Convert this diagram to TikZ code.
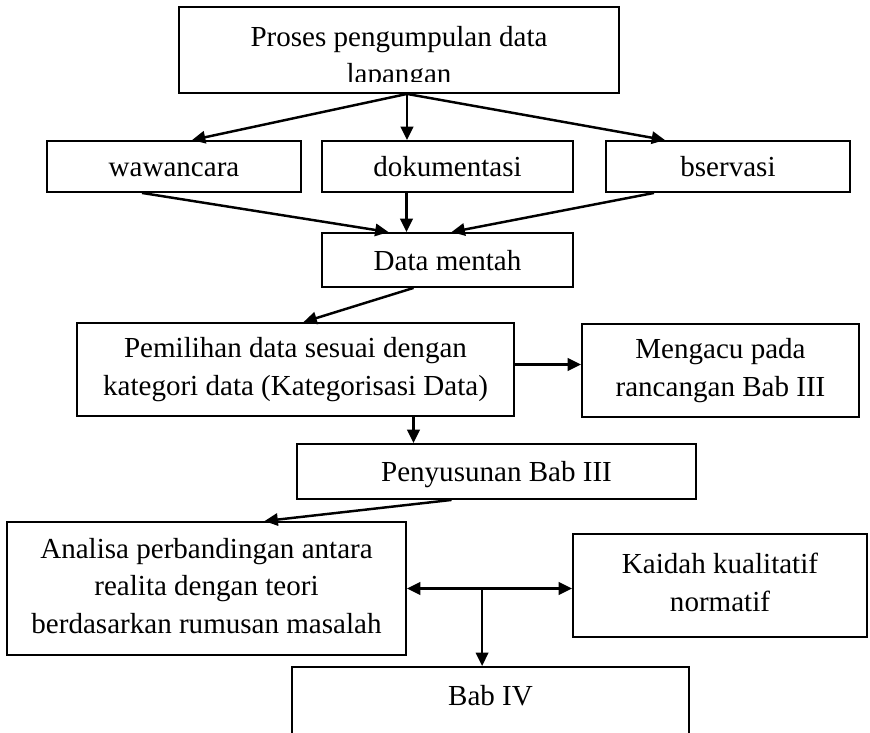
\documentclass[tikz,border=0pt]{standalone}
\usepackage{fontspec}
\setmainfont{Liberation Serif}
\usetikzlibrary{arrows.meta,calc}
\newcommand\boxstrut{\rule[-0.18cm]{0pt}{0.96cm}}
\begin{document}
\begin{tikzpicture}[x=0.03cm,y=-0.03cm,
  box/.style={draw, line width=1.6pt, inner sep=0pt, align=center, font=\fontsize{24.8pt}{32pt}\selectfont,
    execute at begin node=\boxstrut, execute at end node=\boxstrut},
  link/.style={->, line width=2.1pt},
  >={Triangle[length=0.4cm,width=0.37cm]}]
\useasboundingbox (0,0) rectangle (870,733);
\node[box, minimum width=13.2cm, minimum height=2.58cm] (src) at (399,50) {};
\begin{scope}
\clip (179,7) rectangle (619,82);
\node[box, draw=none] (srctext) at (399,58) {Proses pengumpulan data\\lapangan};
\end{scope}
\node[box, minimum width=7.62cm, minimum height=1.53cm] (waw) at (174,166.5) {wawancara};
\node[box, minimum width=7.53cm, minimum height=1.53cm] (dok) at (447.5,166.5) {dokumentasi};
\node[box, minimum width=7.32cm, minimum height=1.53cm] (obs) at (728,166.5) {bservasi};
\node[box, minimum width=7.53cm, minimum height=1.62cm] (mentah) at (447.5,260) {Data mentah};
\node[box, minimum width=13.11cm, minimum height=2.79cm] (pilih) at (295.5,369.5) {Pemilihan data sesuai dengan\\kategori data (Kategorisasi Data)};
\node[box, minimum width=8.31cm, minimum height=2.79cm] (acu) at (720.5,370.5) {Mengacu pada\\rancangan Bab III};
\node[box, minimum width=11.97cm, minimum height=1.65cm] (susun) at (496.5,471.5) {Penyusunan Bab III};
\node[box, minimum width=11.97cm, minimum height=3.99cm] (analisa) at (206.5,588.5) {Analisa perbandingan antara\\realita dengan teori\\berdasarkan rumusan masalah};
\node[box, minimum width=8.82cm, minimum height=3.09cm] (kaidah) at (720,585.5) {Kaidah kualitatif\\normatif};
\node[box, minimum width=11.91cm, minimum height=3.0cm] (bab4) at (490.5,717) {Bab IV\\\mbox{}};
% pengumpulan data
\coordinate (fork) at ($(src.south)+(8,0)$);
\draw[link] (fork) -- ($(waw.north)+(18,0)$);
\draw[link] (fork) -- (fork |- dok.north);
\draw[link] (fork) -- ($(obs.north)+(-63,0)$);
\draw[link] ($(waw.south)+(-32,0)$) -- ($(mentah.north)+(-59,0)$);
\draw[link] ($(dok.south)+(-41,0)$) -- ($(mentah.north)+(-41,0)$);
\draw[link] ($(obs.south)+(-74,0)$) -- ($(mentah.north)+(4,0)$);
% pengolahan
\draw[link] ($(mentah.south)+(-34,0)$) -- ($(pilih.north)+(8,0)$);
\draw[link] ($(pilih.east)+(0,-5)$) -- ($(acu.west)+(0,-6)$);
\draw[link] ($(pilih.south)+(118,0)$) -- ($(susun.north)+(-83,0)$);
\draw[link] ($(susun.south)+(-45,0)$) -- ($(analisa.north)+(58,0)$);
% analisa
\draw[link, <->] (analisa.east) -- (kaidah.west |- analisa.east);
\coordinate (mid) at ($(analisa.east)!0.455!(kaidah.west |- analisa.east)$);
\draw[link] (mid) -- (mid |- bab4.north);
\end{tikzpicture}
\end{document}
